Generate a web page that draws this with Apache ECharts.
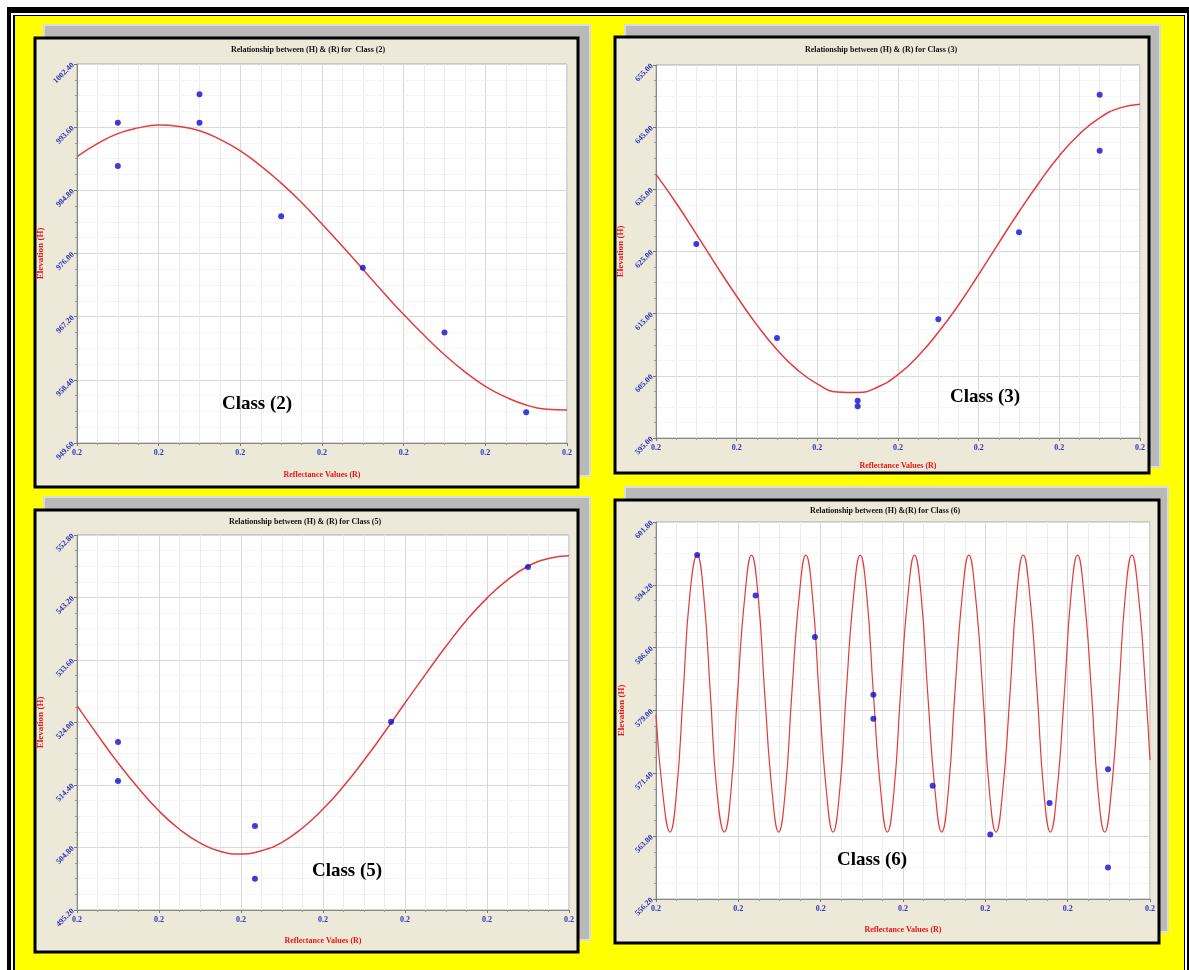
<!DOCTYPE html>
<html><head><meta charset="utf-8">
<script src="https://cdn.jsdelivr.net/npm/echarts@6/dist/echarts.min.js"></script>
<style>html,body{margin:0;padding:0;background:#fff}#c{width:1189px;height:970px}</style>
</head><body><div id="c"></div>
<script>
// ---------- data ----------
const xTickLabels = ['0.2','0.2','0.2','0.2','0.2','0.2','0.2'];
const curveR = [0, 0.25, 0.5, 0.75, 1, 1.25, 1.5, 1.75, 2, 2.25, 2.5, 2.75, 3, 3.25, 3.5, 3.75,
  4, 4.25, 4.5, 4.75, 5, 5.25, 5.5, 5.75, 6];

const yTicks2 = [949.6, 958.4, 967.2, 976.0, 984.8, 993.6, 1002.4];
const pts2R = [0.5, 0.5, 1.5, 1.5, 2.5, 3.5, 4.5, 5.5];
const pts2H = [994.2, 988.2, 998.2, 994.2, 981.2, 974.0, 965.0, 953.9];
const curve2H = [989.5, 991.3, 992.7, 993.5, 993.9, 993.7, 993.1, 991.9, 990.3, 988.2, 985.8, 983.1,
  980.1, 977.0, 973.8, 970.6, 967.5, 964.6, 961.9, 959.5, 957.5, 956.0, 954.9, 954.3, 954.2];

const yTicks3 = [595, 605, 615, 625, 635, 645, 655];
const pts3R = [0.5, 1.5, 2.5, 2.5, 3.5, 4.5, 5.5, 5.5];
const pts3H = [626.2, 611.1, 601.0, 600.1, 614.1, 628.1, 650.2, 641.2];
const curve3H = [637.4, 632.8, 627.8, 622.7, 617.8, 613.2, 609.2, 606.0, 603.7, 602.4, 602.3, 603.2,
  605.2, 608.2, 612.0, 616.4, 621.3, 626.4, 631.4, 636.1, 640.4, 643.9, 646.5, 648.1, 648.7];

const yTicks5 = [495.2, 504.8, 514.4, 524.0, 533.6, 543.2, 552.8];
const pts5R = [0.5, 0.5, 2.17, 2.17, 3.83, 5.5];
const pts5H = [521.0, 515.0, 508.1, 500.0, 524.1, 547.9];
const curve5H = [526.6, 522.1, 517.8, 513.9, 510.4, 507.6, 505.5, 504.2, 503.8, 504.3, 505.6, 507.8,
  510.7, 514.2, 518.2, 522.5, 527.0, 531.4, 535.7, 539.7, 543.1, 545.9, 548.0, 549.2, 549.6];

const yTicks6 = [556.2, 563.8, 571.4, 579.0, 586.6, 594.2, 601.8];
const pts6R = [0.5, 1.21, 1.93, 2.64, 2.64, 3.36, 4.06, 4.78, 5.49, 5.49];
const pts6H = [597.8, 592.9, 587.9, 580.9, 578.0, 569.9, 564.0, 567.8, 571.9, 560.0];
const curve6R = [0.00, 0.08, 0.17, 0.25, 0.33, 0.41, 0.50, 0.58, 0.66, 0.74, 0.83, 0.91, 0.99, 1.08,
  1.16, 1.24, 1.32, 1.41, 1.49, 1.57, 1.65, 1.74, 1.82, 1.90, 1.98, 2.07, 2.15, 2.23, 2.31, 2.40,
  2.48, 2.56, 2.64, 2.73, 2.81, 2.89, 2.97, 3.06, 3.14, 3.22, 3.30, 3.39, 3.47, 3.55, 3.63, 3.72,
  3.80, 3.88, 3.97, 4.05, 4.13, 4.21, 4.30, 4.38, 4.46, 4.54, 4.63, 4.71, 4.79, 4.87, 4.96, 5.04,
  5.12, 5.20, 5.29, 5.37, 5.45, 5.53, 5.62, 5.70, 5.78, 5.86, 5.95, 6.00];
const curve6H = [578.5, 569.2, 564.3, 569.2, 581.1, 592.9, 597.8, 592.9, 581.1, 569.2, 564.3, 569.2, 581.1, 592.9,
  597.8, 592.9, 581.1, 569.2, 564.3, 569.2, 581.1, 592.9, 597.8, 592.9, 581.1, 569.2, 564.3, 569.2, 581.1, 592.9,
  597.8, 592.9, 581.1, 569.2, 564.3, 569.2, 581.1, 592.9, 597.8, 592.9, 581.1, 569.2, 564.3, 569.2, 581.1, 592.9,
  597.8, 592.9, 581.1, 569.2, 564.3, 569.2, 581.1, 592.9, 597.8, 592.9, 581.1, 569.2, 564.3, 569.2, 581.1, 592.9,
  597.8, 592.9, 581.1, 569.2, 564.3, 569.2, 581.1, 592.9, 597.8, 592.9, 581.1, 573.0];

const titles = ['Relationship between (H) & (R) for  Class (2)', 'Relationship between (H) & (R) for Class (3)',
  'Relationship between (H) & (R) for Class (5)', 'Relationship between (H) &(R) for Class (6)'];
const classLabels = ['Class (2)', 'Class (3)', 'Class (5)', 'Class (6)'];
const xName = 'Reflectance Values (R)';
const yName = 'Elevation (H)';

// ---------- layout ----------
const panels = [
  {shadow:[44,25,546,451], box:[35,38,543,449], grid:{left:77,top:64,width:490,height:379}, title:[308,50], cls:[257,404], yGap:32, xGap:28,
   ticks:yTicks2, pR:pts2R, pH:pts2H, cR:curveR, cH:curve2H},
  {shadow:[625,25,535,442], box:[615,37,534,436], grid:{left:656,top:65,width:484,height:373}, title:[881,50], cls:[985,397], yGap:31, xGap:24,
   ticks:yTicks3, pR:pts3R, pH:pts3H, cR:curveR, cH:curve3H},
  {shadow:[44,497,546,443], box:[35,510,543,442], grid:{left:77,top:535,width:492,height:375}, title:[305,522], cls:[347,871], yGap:32, xGap:27,
   ticks:yTicks5, pR:pts5R, pH:pts5H, cR:curveR, cH:curve5H},
  {shadow:[625,487,543,445], box:[615,500,544,443], grid:{left:656,top:522,width:494,height:377}, title:[885,511], cls:[872,860], yGap:30, xGap:27,
   ticks:yTicks6, pR:pts6R, pH:pts6H, cR:curve6R, cH:curve6H, thin:true}
];

const serif = 'Liberation Serif';
const graphic = [
  {type:'rect', z:-30, shape:{x:7,y:7,width:1182,height:963}, style:{fill:'#000'}},
  {type:'rect', z:-29, shape:{x:11,y:13,width:1176,height:957}, style:{fill:'#fff'}},
  {type:'rect', z:-28, shape:{x:13,y:15,width:1172,height:955}, style:{fill:'#000'}},
  {type:'rect', z:-27, shape:{x:15,y:16,width:1169,height:954}, style:{fill:'#ffff00'}}
];
const grids = [], xAxes = [], yAxes = [], series = [];
panels.forEach((p, i) => {
  graphic.push({type:'rect', z:-20, shape:{x:p.shadow[0],y:p.shadow[1],width:p.shadow[2],height:p.shadow[3]},
    style:{fill:'#b9b9b9', stroke:'#dcdcdc', lineWidth:2}});
  graphic.push({type:'rect', z:-19, shape:{x:p.box[0],y:p.box[1],width:p.box[2],height:p.box[3]},
    style:{fill:'#ece9d8', stroke:'#000', lineWidth:3}});
  graphic.push({type:'text', z:50, x:p.title[0], y:p.title[1],
    style:{text:titles[i], fill:'#111', font:'bold 8px "' + serif + '"', align:'center', verticalAlign:'middle'}});
  graphic.push({type:'text', z:50, x:p.cls[0], y:p.cls[1],
    style:{text:classLabels[i], fill:'#000', font:'bold 19px "' + serif + '"', align:'center', verticalAlign:'middle'}});

  grids.push(Object.assign({show:true, backgroundColor:'#fff', borderColor:'#a8a8a8', borderWidth:1}, p.grid));
  xAxes.push({
    type:'value', gridIndex:i, min:0, max:6, interval:1,
    name:xName, nameLocation:'middle', nameGap:p.xGap,
    nameTextStyle:{color:'#ee1111', fontFamily:serif, fontWeight:'bold', fontSize:8},
    axisLine:{show:true, lineStyle:{color:'#888'}},
    axisTick:{show:true, length:3, lineStyle:{color:'#777'}},
    minorTick:{show:true, splitNumber:4, length:2, lineStyle:{color:'#999'}},
    axisLabel:{color:'#3333bb', fontFamily:serif, fontWeight:'bold', fontSize:8, margin:6,
      formatter:v => xTickLabels[Math.round(v)]},
    splitLine:{show:true, lineStyle:{color:'#d9d9d9', width:1}},
    minorSplitLine:{show:true, lineStyle:{color:'#ececec', width:1}}
  });
  const t = p.ticks;
  yAxes.push({
    type:'value', gridIndex:i, min:t[0], max:t[t.length-1], interval:+(t[1]-t[0]).toFixed(2),
    name:yName, nameLocation:'middle', nameGap:p.yGap, nameRotate:90,
    nameTextStyle:{color:'#ee1111', fontFamily:serif, fontWeight:'bold', fontSize:9},
    axisLine:{show:true, lineStyle:{color:'#888'}},
    axisTick:{show:true, length:3, lineStyle:{color:'#777'}},
    minorTick:{show:true, splitNumber:4, length:2, lineStyle:{color:'#999'}},
    axisLabel:{color:'#3333bb', fontFamily:serif, fontWeight:'bold', fontSize:8, rotate:45, margin:4,
      formatter:v => v.toFixed(2)},
    splitLine:{show:true, lineStyle:{color:'#d9d9d9', width:1}},
    minorSplitLine:{show:true, lineStyle:{color:'#ececec', width:1, type:'dotted'}}
  });
  series.push({
    type:'line', xAxisIndex:i, yAxisIndex:i, smooth:true, showSymbol:false, silent:true,
    data:p.cR.map((r, k) => [r, p.cH[k]]),
    lineStyle:{color:'#e23c3c', width:p.thin ? 1.2 : 1.5}, z:3
  });
  series.push({
    type:'scatter', xAxisIndex:i, yAxisIndex:i, symbol:'circle', symbolSize:6,
    data:p.pR.map((r, k) => [r, p.pH[k]]),
    itemStyle:{color:'#0c0cd0'}, z:4
  });
});

const chart = echarts.init(document.getElementById('c'), null, {renderer:'canvas'});
chart.setOption({
  animation:false,
  backgroundColor:'#fff',
  graphic:graphic,
  grid:grids, xAxis:xAxes, yAxis:yAxes, series:series
});
</script></body></html>
